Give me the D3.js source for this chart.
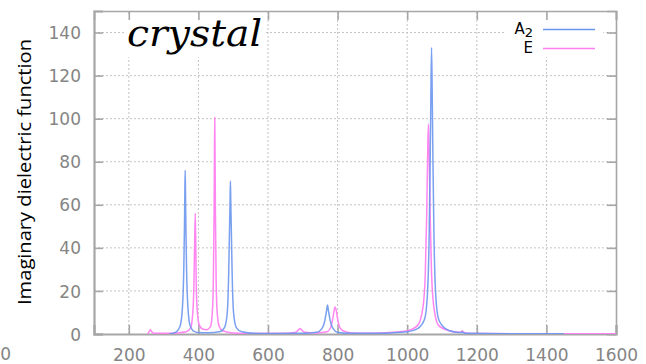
<!DOCTYPE html>
<html>
<head>
<meta charset="utf-8">
<script src="https://cdn.jsdelivr.net/npm/d3@7"></script>
<style>
  html, body { margin: 0; padding: 0; background: #fff; }
  svg { display: block; }
</style>
</head>
<body>
<div id="chart"></div>
<script>
// ---- data ----
const xTicks = [200, 400, 600, 800, 1000, 1200, 1400, 1600];
const yTicks = [0, 20, 40, 60, 80, 100, 120, 140];
const seriesNames = ["A2", "E"];

// A2 series: wavenumber, intensity
const a2X = [316, 330, 340, 348, 354, 358, 360, 361, 362, 363, 364, 366, 370, 376, 385, 400, 430, 460, 475, 483, 487, 489, 491, 492, 493, 495, 497, 501, 509, 525, 560, 620, 700, 740, 755, 763, 768, 771, 774, 779, 787, 800, 830, 900, 950, 1000, 1030, 1050, 1058, 1063, 1066, 1068, 1070, 1072, 1074, 1077, 1082, 1090, 1110, 1140, 1155, 1158, 1161, 1170, 1300, 1450];
const a2Y = [0, 0.5, 1.5, 4, 12, 30, 50, 65, 76, 65, 50, 30, 12, 4, 1.5, 0.7, 0.6, 1, 3, 10, 28, 45, 62, 71, 62, 45, 28, 10, 3, 1, 0.3, 0.2, 0.3, 0.8, 2.5, 6, 10.5, 13.5, 10.5, 6, 2.5, 0.8, 0.3, 0.3, 0.5, 1, 2.5, 7, 18, 45, 80, 110, 133, 110, 80, 45, 18, 7, 2.5, 0.8, 0.7, 1, 0.6, 0.3, 0.1, 0.1];

// E series
const eX = [254, 258, 262, 266, 272, 300, 340, 365, 378, 384, 387, 389, 391, 392.5, 394, 397, 403, 412, 425, 435, 440, 443, 445, 446, 447, 448, 449, 451, 454, 460, 470, 500, 560, 650, 680, 688, 692, 696, 705, 740, 770, 782, 787, 790, 793, 796, 799, 804, 815, 840, 900, 950, 1000, 1030, 1045, 1052, 1056, 1059, 1061, 1063, 1066, 1070, 1077, 1090, 1120, 1150, 1155, 1158, 1161, 1170, 1200, 1400, 1600];
const eY = [0, 1, 2, 1, 0.4, 0.3, 0.5, 1, 3, 10, 22, 40, 56, 40, 22, 10, 4, 2.3, 2, 3.5, 10, 25, 55, 80, 100.5, 80, 55, 25, 10, 3.5, 1.5, 0.5, 0.2, 0.3, 0.8, 2, 2.5, 2, 0.8, 0.5, 1, 4, 8, 11, 12.5, 11, 8, 4, 1.5, 0.5, 0.4, 0.7, 1.5, 4, 12, 28, 55, 85, 97.5, 85, 55, 28, 12, 4, 1.5, 0.8, 1, 1.5, 1, 0.4, 0.2, 0.1, 0.1];

// ---- layout ----
const W = 646, H = 364;
const M = { left: 94, right: 30, top: 11, bottom: 30 };
const iw = W - M.left - M.right, ih = H - M.top - M.bottom;

const svg = d3.select("#chart").append("svg").attr("width", W).attr("height", H);

const x = d3.scaleLinear().domain([100, 1600]).range([M.left, M.left + iw]);
const y = d3.scaleLinear().domain([0, 150]).range([M.top + ih, M.top]);

const frameCol = "#a6a6a6";
const gridCol = "#c4c4c4";
const tickFont = "DejaVu Sans, Verdana, sans-serif";

// grid
const grid = svg.append("g");
grid.selectAll("line.vx").data(xTicks.filter(d => d < 1600)).join("line")
  .attr("x1", d => x(d)).attr("x2", d => x(d))
  .attr("y1", y(0)).attr("y2", y(150))
  .attr("stroke", gridCol).attr("stroke-width", 1).attr("stroke-dasharray", "2,2");
grid.selectAll("line.hy").data(yTicks.filter(d => d > 0)).join("line")
  .attr("x1", x(100)).attr("x2", x(1600))
  .attr("y1", d => y(d)).attr("y2", d => y(d))
  .attr("stroke", gridCol).attr("stroke-width", 1).attr("stroke-dasharray", "2,2");

// title label background + text
svg.append("rect").attr("x", 124).attr("y", 15).attr("width", 142).attr("height", 42).attr("fill", "#fff");
svg.append("text").attr("x", 127).attr("y", 46)
  .attr("font-family", "DejaVu Serif, serif").attr("font-style", "italic")
  .attr("font-size", 38).attr("textLength", 135).attr("lengthAdjust", "spacingAndGlyphs")
  .attr("fill", "#000").text("crystal");

// legend background
svg.append("rect").attr("x", 505).attr("y", 12).attr("width", 98).attr("height", 45).attr("fill", "#fff");

// axes (frame + ticks)
const tickLen = 9;
const gx = svg.append("g").attr("transform", `translate(0,${y(0)})`)
  .call(d3.axisBottom(x).tickValues(xTicks).tickSize(-tickLen).tickPadding(tickLen + 6).tickFormat(d3.format("d")));
const gxTop = svg.append("g").attr("transform", `translate(0,${y(150)})`)
  .call(d3.axisTop(x).tickValues(xTicks).tickSize(-tickLen).tickFormat(""));
const gy = svg.append("g").attr("transform", `translate(${x(100)},0)`)
  .call(d3.axisLeft(y).tickValues(yTicks).tickSize(-tickLen).tickPadding(tickLen + 4));
const gyR = svg.append("g").attr("transform", `translate(${x(1600)},0)`)
  .call(d3.axisRight(y).tickValues(yTicks).tickSize(-tickLen).tickFormat(""));

[gx, gxTop, gy, gyR].forEach(g => {
  g.select(".domain").attr("stroke", frameCol).attr("stroke-width", 1.6);
  g.selectAll(".tick line").attr("stroke", frameCol).attr("stroke-width", 1.6);
  g.selectAll(".tick text").attr("fill", "#858585").attr("font-family", tickFont).attr("font-size", 17);
});
gx.select(".domain").attr("stroke-width", 2.2);
gy.select(".domain").attr("stroke-width", 2.2);
gy.selectAll(".tick text").attr("dy", "0.36em");
gx.selectAll(".tick text").attr("dy", "0.71em");

// stray cropped tick label at the far left
svg.append("text").attr("x", 11).attr("y", 360).attr("text-anchor", "end")
  .attr("fill", "#858585").attr("font-family", tickFont).attr("font-size", 17).text("0");

// y axis label
svg.append("text")
  .attr("transform", `translate(31,${172}) rotate(-90)`)
  .attr("text-anchor", "middle")
  .attr("font-family", "Open Sans, sans-serif").attr("font-size", 19).attr("fill", "#000")
  .attr("textLength", 266).attr("lengthAdjust", "spacingAndGlyphs")
  .text("Imaginary dielectric function");

// lines
const line = d3.line().x(d => x(d[0])).y(d => y(d[1])).curve(d3.curveMonotoneX);
const a2Data = d3.zip(a2X, a2Y);
const eData = d3.zip(eX, eY);

svg.append("clipPath").attr("id", "clip").append("rect")
  .attr("x", M.left).attr("y", M.top).attr("width", iw).attr("height", ih);

const plot = svg.append("g").attr("clip-path", "url(#clip)");
plot.append("path").datum(eData).attr("d", line)
  .attr("fill", "none").attr("stroke", "#ff7ff0").attr("stroke-width", 1.5).attr("stroke-opacity", 0.95);
plot.append("path").datum(a2Data).attr("d", line)
  .attr("fill", "none").attr("stroke", "#6b96ee").attr("stroke-width", 1.5).attr("stroke-opacity", 0.9);

// legend
const leg = svg.append("g").attr("font-family", tickFont).attr("font-size", 15).attr("fill", "#000");
const lt1 = leg.append("text").attr("x", 533).attr("y", 34).attr("text-anchor", "end");
lt1.append("tspan").text("A");
lt1.append("tspan").attr("font-size", 13).attr("dy", 3).text("2");
leg.append("text").attr("x", 533).attr("y", 53).attr("text-anchor", "end").text(seriesNames[1]);
leg.append("line").attr("x1", 543).attr("x2", 595).attr("y1", 29.5).attr("y2", 29.5)
  .attr("stroke", "#6b96ee").attr("stroke-width", 1.5);
leg.append("line").attr("x1", 543).attr("x2", 595).attr("y1", 48.5).attr("y2", 48.5)
  .attr("stroke", "#ff7ff0").attr("stroke-width", 1.5);
</script>
</body>
</html>
